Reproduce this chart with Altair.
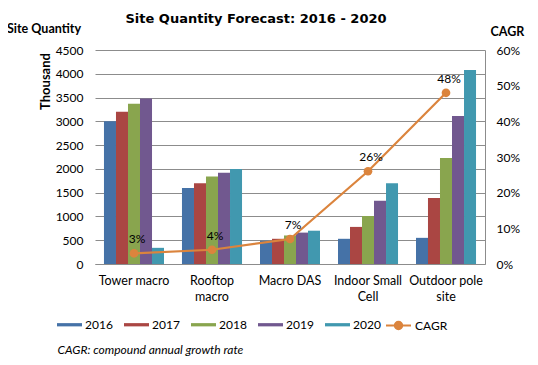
import altair as alt
import pandas as pd

categories = ["Tower macro", "Rooftop macro", "Macro DAS", "Indoor Small Cell", "Outdoor pole site"]
years = ["2016", "2017", "2018", "2019", "2020"]
v2016 = [3000, 1600, 490, 530, 550]
v2017 = [3200, 1700, 530, 780, 1390]
v2018 = [3370, 1840, 600, 1010, 2230]
v2019 = [3480, 1920, 660, 1330, 3110]
v2020 = [340, 2000, 700, 1700, 4080]
cagr = [0.03, 0.04, 0.07, 0.26, 0.48]
left_ticks = [0, 500, 1000, 1500, 2000, 2500, 3000, 3500, 4000, 4500]
right_ticks = [0, 0.1, 0.2, 0.3, 0.4, 0.5, 0.6]
colors = ["#4572A7", "#AA4643", "#89A54E", "#71588F", "#4198AF"]
orange = "#DB843D"

series = [v2016, v2017, v2018, v2019, v2020]
rows = []
for y, vals in zip(years, series):
    for c, v in zip(categories, vals):
        rows.append({"category": c, "year": y, "value": v})
bars_df = pd.DataFrame(rows)
line_df = pd.DataFrame({"category": categories, "cagr": cagr, "series": ["CAGR"] * len(categories)})

FONT = "Lato"
grid = "#8C8C8C"

label_expr = ("datum.label == 'Rooftop macro' ? ['Rooftop', 'macro'] : "
              "datum.label == 'Indoor Small Cell' ? ['Indoor Small', 'Cell'] : "
              "datum.label == 'Outdoor pole site' ? ['Outdoor pole', 'site'] : datum.label")

x_enc = alt.X(
    "category:N", sort=categories,
    scale=alt.Scale(paddingInner=0.23, paddingOuter=0.115),
    axis=alt.Axis(
        title="CAGR: compound annual growth rate", titleFont=FONT, titleFontSize=12,
        titleFontStyle="italic", titleFontWeight="normal", titleColor="black",
        titleX=-38, titleY=85, titleAlign="left", titleBaseline="middle", titleAnchor="start",
        labelAngle=0, labelExpr=label_expr, labelFont=FONT, labelFontSize=12.5,
        labelColor="black", labelPadding=10, labelLineHeight=16,
        ticks=False, domainColor=grid, domainWidth=1,
    ),
)

bar_rect = "M-1,-0.13H1V0.13H-1Z"
bars = alt.Chart(bars_df).mark_bar().encode(
    x=x_enc,
    xOffset=alt.XOffset("year:N", sort=years, scale=alt.Scale(paddingInner=0, paddingOuter=0)),
    y=alt.Y("value:Q", scale=alt.Scale(domain=[0, 4500], nice=False),
            axis=alt.Axis(values=left_ticks, format="d", labelOverlap=False,
                          title="Thousand", titleFont=FONT, titleFontSize=13,
                          titleFontWeight="bold", titleColor="black", titleX=-50, titleY=31,
                          titleAngle=-90, titleBaseline="middle", titleAlign="center",
                          labelFont=FONT, labelFontSize=12, labelColor="black", labelPadding=12,
                          ticks=False, domain=False, grid=True, gridColor=grid, gridWidth=1)),
    color=alt.Color("year:N", sort=years, scale=alt.Scale(domain=years, range=colors),
                    legend=alt.Legend(orient="none", legendX=-38, legendY=262, direction="horizontal",
                                      columns=5, title=None, symbolType=bar_rect, symbolSize=625,
                                      symbolStrokeWidth=0, labelFont=FONT, labelFontSize=12,
                                      labelColor="black", labelOffset=3, columnPadding=11)),
)

site_q = alt.Chart(pd.DataFrame({"t": ["Site Quantity"]})).mark_text(
    font=FONT, fontSize=12.5, fontWeight="bold", align="left", baseline="middle", color="black"
).encode(text="t:N", x=alt.value(-88), y=alt.value(-21))

right_axis = alt.Axis(orient="right", values=right_ticks, format=".0%", labelOverlap=False,
                      title="CAGR",
                      titleFont=FONT, titleFontSize=12.5, titleFontWeight="bold", titleColor="black",
                      titleAngle=0, titleX=5, titleY=-19, titleAlign="left", titleBaseline="middle",
                      labelFont=FONT, labelFontSize=12, labelColor="black", labelPadding=11,
                      ticks=False, grid=False, domain=True, domainColor=grid, domainWidth=1)
right_scale = alt.Scale(domain=[0, 0.6], nice=False)

line_path = "M-1,0H-0.3M0.3,0H1M0.3,0A0.3,0.3 0 1 1 -0.3,0A0.3,0.3 0 1 1 0.3,0Z"
line = alt.Chart(line_df).mark_line(strokeWidth=2.2).encode(
    x=alt.X("category:N", sort=categories),
    y=alt.Y("cagr:Q", scale=right_scale, axis=right_axis),
    color=alt.Color("series:N", scale=alt.Scale(domain=["CAGR"], range=[orange]),
                    legend=alt.Legend(orient="none", legendX=290, legendY=262, title=None,
                                      symbolType=line_path, symbolSize=625, symbolStrokeWidth=2,
                                      symbolStrokeColor=orange, symbolFillColor=orange,
                                      labelFont=FONT, labelFontSize=12, labelColor="black", labelOffset=3)),
)
points = alt.Chart(line_df).mark_circle(size=75, opacity=1, color=orange).encode(
    x=alt.X("category:N", sort=categories),
    y=alt.Y("cagr:Q", scale=right_scale, axis=right_axis),
)
labels = alt.Chart(line_df).mark_text(font=FONT, fontSize=12, color="black", dy=-14, dx=3).encode(
    x=alt.X("category:N", sort=categories),
    y=alt.Y("cagr:Q", scale=right_scale, axis=right_axis),
    text=alt.Text("cagr:Q", format=".0%"),
)

right = alt.layer(line, points, labels)
chart = alt.layer(bars, site_q, right).resolve_scale(y="independent", color="independent").properties(
    width=390, height=214,
    title=alt.TitleParams("Site Quantity Forecast: 2016 - 2020", font="DejaVu Sans", fontSize=13,
                          fontWeight="bold", color="black", anchor="middle", frame="group",
                          baseline="alphabetic", dx=-34, offset=-13),
    autosize=alt.AutoSizeParams(type="none"),
    padding={"left": 87, "top": 42, "right": 45, "bottom": 93},
).configure_view(strokeWidth=0)

chart.save("out.html", embed_options={"renderer": "svg", "actions": False})
